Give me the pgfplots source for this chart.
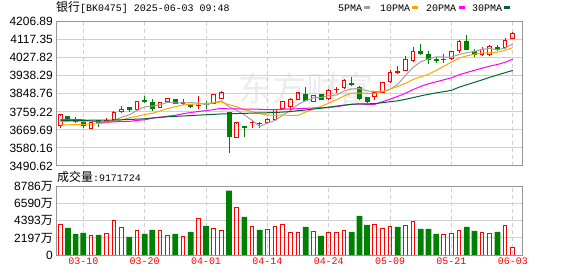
\documentclass[border=0pt]{standalone}
\usepackage{fontspec}
\setmainfont{Liberation Sans}
\newfontfamily\cjk{Noto Sans CJK SC}
\newfontfamily\mono{Liberation Mono}
\usepackage{pgfplots}
\pgfplotsset{compat=1.18}
\definecolor{kred}{RGB}{255,0,0}
\definecolor{kgreen}{RGB}{0,128,0}
\definecolor{ma5}{RGB}{160,160,160}
\definecolor{ma10}{RGB}{255,165,0}
\definecolor{ma20}{RGB}{255,0,255}
\definecolor{ma30}{RGB}{0,100,50}
\definecolor{border}{RGB}{150,150,150}
\definecolor{gridc}{RGB}{208,208,208}
\definecolor{wm}{RGB}{236,236,236}
% candle: index, low, bottom of body, top of body, high
\newcommand{\candleup}[5]{%
 \pgfmathsetmacro{\xl}{#1-0.24}\pgfmathsetmacro{\xr}{#1+0.24}%
 \addplot[kred, line width=1bp, line cap=rect, mark=none, forget plot] coordinates {(\xl,#3)(\xr,#3)(\xr,#4)(\xl,#4)(\xl,#3)};
 \addplot[kred, line width=1bp, mark=none, forget plot] coordinates {(#1,#2)(#1,#3)};
 \addplot[kred, line width=1bp, mark=none, forget plot] coordinates {(#1,#4)(#1,#5)};}
\newcommand{\candledn}[5]{%
 \pgfmathsetmacro{\xl}{#1-0.26}\pgfmathsetmacro{\xr}{#1+0.26}%
 \addplot[kgreen, line width=1bp, mark=none, forget plot] coordinates {(#1,#2)(#1,#5)};
 \addplot[draw=kgreen, fill=kgreen, line width=1bp, line cap=rect, mark=none, forget plot] coordinates {(\xl,#3)(\xr,#3)(\xr,#4)(\xl,#4)(\xl,#3)};}
\pgfplotsset{kbase/.style={scale only axis, width=466bp, xmin=-0.56, xmax=60.2,
  axis line style={draw=border, line width=1bp},
  major tick length=0pt,
  xtick={3,11,19,27,35,43,51,59},
  xmajorgrids, ymajorgrids,
  x grid style={draw=gridc, line width=1bp, dash pattern=on 4bp off 3bp},
  y grid style={draw=gridc, line width=1bp},
  yticklabel style={font=\fontsize{12}{12}\selectfont, inner sep=0pt, anchor=east, xshift=-3bp}}}
\begin{document}
\begin{tikzpicture}
\path[use as bounding box] (0,0) rectangle (578bp,276bp);
\node[text=wm, font=\cjk\fontsize{34}{34}\selectfont, inner sep=0] at (306bp,188bp) {东方财富};
% price pane
\begin{axis}[kbase, at={(56bp,110bp)}, anchor=south west, height=144.3bp,
  ymin=3490.62, ymax=4206.89,
  ytick={3490.62,3580.16,3669.69,3759.22,3848.76,3938.29,4027.82,4117.35,4206.89},
  yticklabels={3490.62,3580.16,3669.69,3759.22,3848.76,3938.29,4027.82,4117.35,4206.89},
  xticklabels={}]
\candleup{0}{3681}{3691}{3744}{3745}
\candledn{1}{3709}{3723}{3738}{3739}
\candledn{2}{3705}{3711}{3723}{3734}
\candledn{3}{3678}{3690}{3706}{3708}
\candleup{4}{3676}{3678}{3708}{3709}
\candledn{5}{3686}{3708}{3714}{3719}
\candleup{6}{3706}{3708}{3718}{3727}
\candleup{7}{3717}{3719}{3758}{3766}
\candleup{8}{3753}{3759}{3772}{3787}
\candledn{9}{3759}{3769}{3779}{3780}
\candleup{10}{3770}{3772}{3812}{3813}
\candledn{11}{3802}{3810}{3814}{3839}
\candledn{12}{3766}{3776}{3804}{3824}
\candleup{13}{3780}{3782}{3807}{3809}
\candleup{14}{3810}{3812}{3827}{3829}
\candledn{15}{3800}{3802}{3822}{3823}
\candleup{16}{3794}{3802}{3805}{3824}
\candledn{17}{3781}{3786}{3797}{3798}
\candleup{18}{3774}{3790}{3792}{3840}
\candledn{19}{3772}{3794}{3802}{3814}
\candleup{20}{3798}{3801}{3844}{3848}
\candleup{21}{3822}{3826}{3855}{3864}
\candledn{22}{3557}{3637}{3758}{3761}
\candleup{23}{3630}{3633}{3705}{3706}
\candledn{24}{3633}{3683}{3685}{3686}
\candleup{25}{3681}{3705}{3707}{3716}
\candleup{26}{3678}{3700}{3702}{3711}
\candleup{27}{3701}{3706}{3721}{3731}
\candleup{28}{3718}{3721}{3772}{3775}
\candleup{29}{3773}{3776}{3812}{3814}
\candleup{30}{3769}{3786}{3821}{3829}
\candleup{31}{3820}{3822}{3854}{3855}
\candledn{32}{3812}{3814}{3844}{3884}
\candleup{33}{3810}{3812}{3842}{3845}
\candledn{34}{3819}{3822}{3844}{3849}
\candleup{35}{3819}{3826}{3864}{3874}
\candleup{36}{3852}{3868}{3872}{3884}
\candleup{37}{3875}{3880}{3913}{3922}
\candledn{38}{3888}{3897}{3900}{3932}
\candledn{39}{3816}{3827}{3880}{3889}
\candledn{40}{3802}{3809}{3832}{3835}
\candleup{41}{3819}{3834}{3854}{3864}
\candleup{42}{3855}{3857}{3907}{3908}
\candleup{43}{3905}{3912}{3956}{3968}
\candleup{44}{3947}{3953}{3958}{3985}
\candleup{45}{3960}{3967}{4021}{4038}
\candleup{46}{4010}{4013}{4059}{4081}
\candledn{47}{4044}{4048}{4058}{4096}
\candledn{48}{3995}{4021}{4046}{4059}
\candledn{49}{4003}{4013}{4021}{4033}
\candledn{50}{4003}{4017}{4020}{4049}
\candleup{51}{4018}{4023}{4059}{4062}
\candleup{52}{4053}{4063}{4109}{4116}
\candledn{53}{4066}{4068}{4109}{4141}
\candledn{54}{4033}{4043}{4058}{4069}
\candleup{55}{4039}{4043}{4069}{4083}
\candleup{56}{4039}{4044}{4084}{4089}
\candledn{57}{4063}{4071}{4079}{4089}
\candleup{58}{4073}{4078}{4114}{4126}
\candleup{59}{4119}{4124}{4146}{4157}
% MA5
\addplot[ma5, line width=1bp, mark=none] coordinates {(0,3712)(1,3713)(2,3715)(3,3712)(4,3715.2)(5,3708)(6,3707)(7,3716.4)(8,3732.8)(9,3745)(10,3765.8)(11,3784.2)(12,3787.8)(13,3794.8)(14,3806.4)(15,3804.4)(16,3803.4)(17,3805.4)(18,3802.4)(19,3795.8)(20,3804.2)(21,3814.2)(22,3784.4)(23,3767)(24,3744.8)(25,3717.4)(26,3686.8)(27,3703.6)(28,3717)(29,3742.8)(30,3765.6)(31,3796)(32,3814.6)(33,3828.6)(34,3830.6)(35,3839.2)(36,3842.8)(37,3862.6)(38,3873.6)(39,3874.6)(40,3863.6)(41,3860)(42,3858.8)(43,3870.6)(44,3896.8)(45,3939.2)(46,3980.2)(47,4008.4)(48,4021.4)(49,4032.4)(50,4031.6)(51,4031.6)(52,4043.8)(53,4053.2)(54,4059.2)(55,4069.6)(56,4074.6)(57,4067)(58,4076.2)(59,4096.8)};
% MA10
\addplot[ma10, line width=1bp, mark=none] coordinates {(0,3694)(1,3695)(2,3696)(3,3697)(4,3699)(5,3701)(6,3705)(7,3712)(8,3720)(9,3730.1)(10,3736.9)(11,3745.6)(12,3752.1)(13,3763.8)(14,3775.7)(15,3785.1)(16,3793.8)(17,3796.6)(18,3798.6)(19,3801.1)(20,3804.3)(21,3808.8)(22,3794.9)(23,3784.7)(24,3770.3)(25,3760.8)(26,3750.5)(27,3744.0)(28,3742.0)(29,3743.8)(30,3741.5)(31,3741.4)(32,3759.1)(33,3772.8)(34,3786.7)(35,3802.4)(36,3819.4)(37,3838.6)(38,3851.1)(39,3852.6)(40,3851.4)(41,3851.4)(42,3860.7)(43,3872.1)(44,3885.7)(45,3901.4)(46,3920.1)(47,3933.6)(48,3946.0)(49,3964.6)(50,3985.4)(51,4005.9)(52,4026.1)(53,4037.3)(54,4045.8)(55,4050.6)(56,4053.1)(57,4055.4)(58,4064.7)(59,4078.0)};
% MA20
\addplot[ma20, line width=1bp, mark=none] coordinates {(0,3722)(1,3722)(2,3721)(3,3720)(4,3714)(5,3710)(6,3709)(7,3710)(8,3711)(9,3712)(10,3717)(11,3720)(12,3728)(13,3733)(14,3738)(15,3742)(16,3750)(17,3756)(18,3761)(19,3765.6)(20,3770.6)(21,3777.2)(22,3773.5)(23,3774.3)(24,3773.0)(25,3773.0)(26,3772.2)(27,3770.3)(28,3770.3)(29,3772.5)(30,3772.9)(31,3775.1)(32,3777.0)(33,3778.8)(34,3778.5)(35,3781.6)(36,3785.0)(37,3791.3)(38,3796.6)(39,3798.2)(40,3796.5)(41,3796.4)(42,3809.9)(43,3822.5)(44,3836.2)(45,3851.9)(46,3869.8)(47,3886.1)(48,3898.6)(49,3908.6)(50,3918.4)(51,3928.7)(52,3943.4)(53,3954.7)(54,3965.8)(55,3976.0)(56,3986.6)(57,3994.5)(58,4005.4)(59,4021.3)};
% MA30
\addplot[ma30, line width=1bp, mark=none] coordinates {(0,3717)(1,3717)(2,3717)(3,3717)(4,3718)(5,3718)(6,3718)(7,3719)(8,3720)(9,3722)(10,3723)(11,3725)(12,3729)(13,3732)(14,3735)(15,3737)(16,3739)(17,3741)(18,3743)(19,3745)(20,3747)(21,3749)(22,3750)(23,3751)(24,3752)(25,3753)(26,3754)(27,3755)(28,3756)(29,3758.3)(30,3760.9)(31,3765.2)(32,3768.7)(33,3773.7)(34,3777.5)(35,3782.7)(36,3787.9)(37,3793.0)(38,3797.2)(39,3799.1)(40,3799.0)(41,3800.5)(42,3804.9)(43,3809.8)(44,3814.2)(45,3821.5)(46,3830.0)(47,3838.7)(48,3846.3)(49,3853.6)(50,3859.4)(51,3866.2)(52,3881.9)(53,3894.0)(54,3906.0)(55,3918.1)(56,3930.8)(57,3942.5)(58,3953.9)(59,3965.0)};
\end{axis}
% volume pane
\begin{axis}[kbase, at={(56bp,21bp)}, anchor=south west, height=68.3bp,
  ymin=0, ymax=8786,
  ytick={0,2197,4393,6590,8786},
  yticklabels={0,{2197{\cjk 万}},{4393{\cjk 万}},{6590{\cjk 万}},{8786{\cjk 万}}},
  xticklabels={03-10,03-20,04-01,04-14,04-24,05-09,05-21,06-03},
  xticklabel style={font=\mono\fontsize{10}{10}\selectfont, text=kred, inner sep=0pt, anchor=north, yshift=-3bp}]
\addplot[ybar, bar width=3.7bp, bar shift=0pt, draw=kred, fill=none, line width=1bp] coordinates {(0,3962)(4,2541)(6,2800)(7,4479)(8,3575)(10,3187)(13,3187)(14,2541)(16,2412)(18,4738)(20,3446)(21,3101)(23,6159)(25,3704)(27,3230)(28,3704)(29,3962)(30,2929)(31,2929)(33,3058)(35,2929)(36,2929)(37,3187)(41,3962)(42,3446)(43,3704)(45,3833)(46,4350)(50,2670)(51,2800)(52,3187)(55,2929)(56,2800)(58,3833)(59,917)};
\addplot[ybar, bar width=5.7bp, bar shift=0pt, draw=none, fill=kgreen] coordinates {(1,3489)(2,2713)(3,2843)(5,2584)(9,2326)(11,2713)(12,3230)(15,2713)(17,2972)(19,3747)(22,8269)(24,4910)(26,3230)(32,3618)(34,2455)(38,2972)(39,5039)(40,3876)(44,3618)(47,3359)(48,3359)(49,2713)(53,3618)(54,3101)(57,2972)};
\end{axis}
% titles and legend
\node[anchor=west, inner sep=0] at (56bp,268bp) {{\cjk\fontsize{12}{12}\selectfont 银行}{\mono\fontsize{10}{10}\selectfont [BK0475] 2025-06-03 09:48}};
\node[anchor=west, inner sep=0] at (57bp,99bp) {{\cjk\fontsize{12}{12}\selectfont 成交量}{\mono\fontsize{10}{10}\selectfont :9171724}};
\begin{scope}[every node/.style={anchor=west, inner sep=0, font=\mono\fontsize{10}{10}\selectfont}]
\node at (338bp,268bp) {5PMA};
\fill[ma5] (364bp,266.5bp) rectangle (370bp,269.5bp);
\node at (380bp,268bp) {10PMA};
\fill[ma10] (412bp,266.5bp) rectangle (418bp,269.5bp);
\node at (426bp,268bp) {20PMA};
\fill[ma20] (459bp,266.5bp) rectangle (465bp,269.5bp);
\node at (472bp,268bp) {30PMA};
\fill[ma30] (504bp,266.5bp) rectangle (510bp,269.5bp);
\end{scope}
\end{tikzpicture}
\end{document}
